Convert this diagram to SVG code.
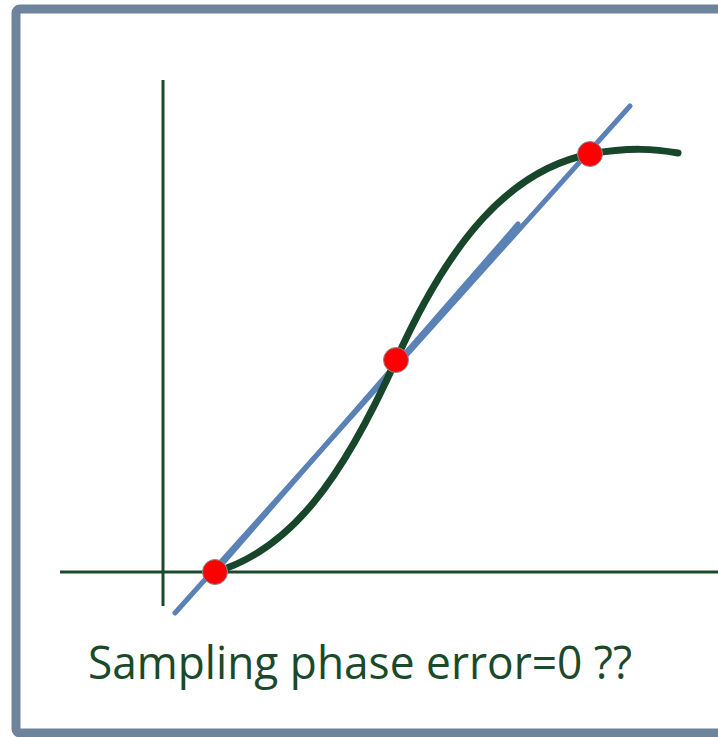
<svg xmlns="http://www.w3.org/2000/svg" width="718" height="737" viewBox="0 0 718 737">
<style>
.axis{stroke:#1a4a2a;stroke-width:3;fill:none}
.blue{stroke:#5b82b6;stroke-width:5;stroke-linecap:round;fill:none}
.curve{stroke:#17462a;stroke-width:7;stroke-linecap:round;fill:none}
.dot{fill:#ff0000;stroke:#8a8a9a;stroke-width:1}
</style>
<rect x="0" y="0" width="718" height="737" fill="#ffffff"/>
<rect x="16" y="9" width="730" height="724" rx="4" fill="#ffffff" stroke="#6e849c" stroke-width="9"/>
<g id="axes">
<line class="axis" x1="163" y1="80" x2="163" y2="606"/>
<line class="axis" x1="60" y1="572" x2="718" y2="572"/>
</g>
<g id="connectors">
<line class="blue" x1="175" y1="613" x2="630" y2="106"/>
<line class="blue" x1="215" y1="572" x2="518" y2="224"/>
<path class="curve" d="M215,572 C290,550 342,480 396,360 C450,240 510,170 590,154 C630,147 655,149 678,153"/>
</g>
<g id="p1"><circle class="dot" cx="215" cy="572" r="12.5"/></g>
<g id="p2"><circle class="dot" cx="396" cy="360" r="12.5"/></g>
<g id="p3"><circle class="dot" cx="590" cy="154" r="12.5"/></g>
<g id="label">
<text x="88" y="679" font-family="Open Sans, Noto Sans, sans-serif" font-size="46" fill="#1a4a2a" textLength="544" lengthAdjust="spacingAndGlyphs">Sampling phase error=0 ??</text>
</g>
</svg>
